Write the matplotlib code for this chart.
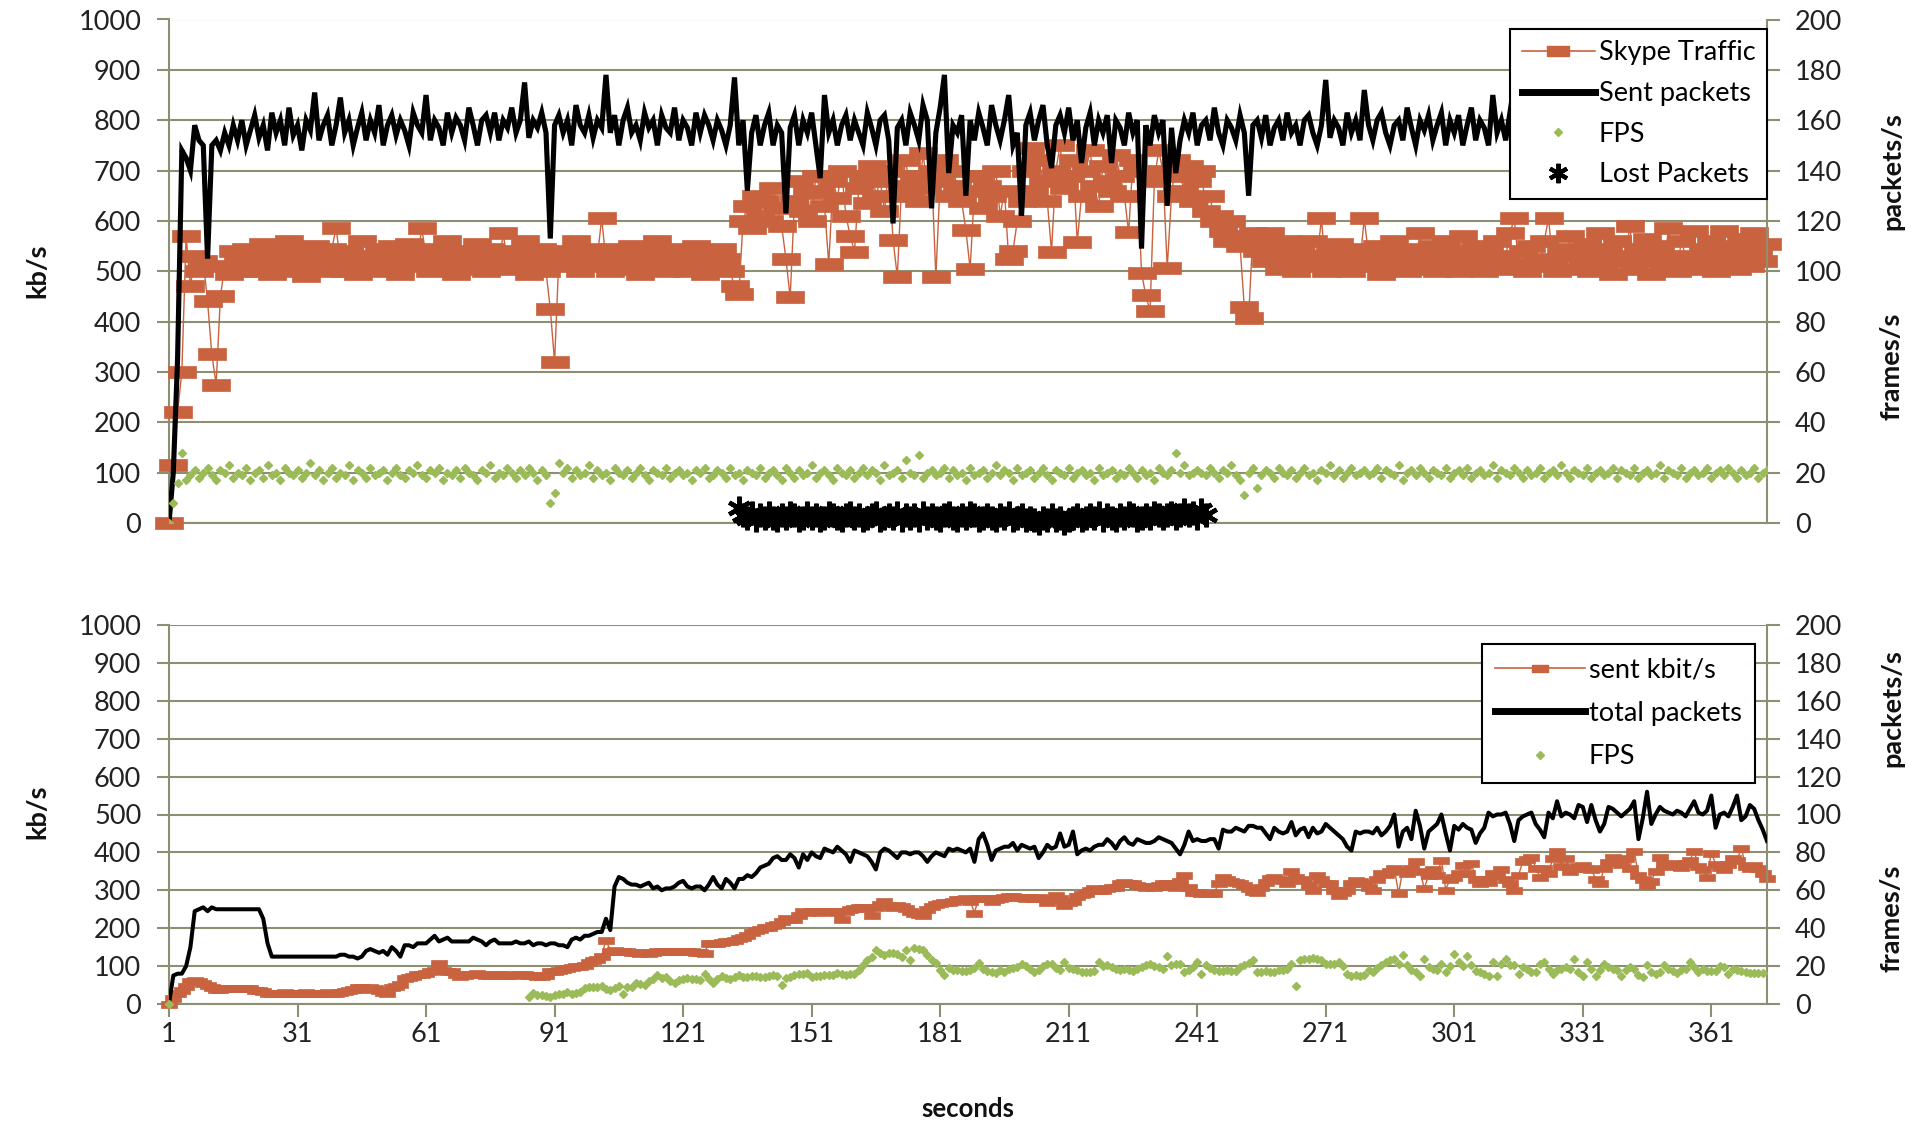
import numpy as np
import matplotlib
matplotlib.use('Agg')
import matplotlib.pyplot as plt
from matplotlib.lines import Line2D
from matplotlib.path import Path

# ---------------- data (one value per second) ----------------
x_ticks = [1, 31, 61, 91, 121, 151, 181, 211, 241, 271, 301, 331, 361]
n_seconds = 374

# top chart: Skype Traffic (kb/s, left axis)
top_skype_kbps = [
    0, 115, 220, 300, 570, 470, 530, 500, 520, 440, 335, 275, 450, 510, 495, 540, 520, 500, 545, 515,
    530, 500, 555, 520, 495, 540, 525, 510, 560, 500, 530, 545, 490, 525, 550, 510, 530, 500, 545, 585,
    520, 500, 540, 530, 495, 560, 515, 525, 500, 545, 530, 505, 550, 520, 495, 535, 555, 510, 525, 585,
    530, 500, 545, 520, 510, 560, 525, 495, 540, 515, 530, 505, 555, 520, 500, 545, 525, 510, 575, 520,
    505, 540, 525, 560, 495, 530, 515, 545, 500, 425, 320, 525, 540, 510, 530, 560, 500, 520, 545, 510,
    530, 605, 520, 500, 545, 515, 530, 505, 550, 520, 495, 540, 525, 510, 560, 530, 500, 545, 520, 510,
    535, 500, 525, 550, 515, 495, 540, 520, 505, 545, 525, 500, 470, 455, 600, 630, 585, 650, 610, 640,
    600, 665, 625, 590, 525, 448, 640, 680, 620, 655, 600, 690, 660, 630, 514, 680, 645, 700, 610, 571,
    539, 665, 690, 635, 710, 650, 680, 620, 700, 563, 489, 670, 720, 650, 690, 640, 735, 665, 700, 489,
    680, 720, 650, 700, 670, 640, 582, 505, 660, 690, 625, 670, 650, 700, 610, 660, 524, 540, 600, 640,
    700, 745, 660, 720, 680, 640, 539, 700, 750, 665, 690, 720, 558, 650, 700, 740, 670, 630, 710, 680,
    660, 730, 690, 650, 577, 720, 700, 497, 452, 421, 680, 740, 700, 507, 650, 720, 690, 660, 710, 640,
    680, 700, 620, 650, 600, 610, 580, 560, 600, 570, 550, 429, 408, 575, 540, 560, 520, 575, 530, 505,
    545, 560, 520, 500, 550, 530, 510, 560, 525, 605, 500, 540, 520, 555, 510, 530, 500, 545, 520, 605,
    530, 510, 550, 495, 540, 525, 560, 510, 530, 500, 545, 520, 575, 505, 535, 550, 500, 525, 560, 515,
    540, 500, 570, 525, 510, 550, 530, 500, 545, 520, 560, 505, 530, 575, 605, 515, 540, 500, 550, 525,
    510, 560, 605, 520, 500, 545, 530, 570, 505, 540, 520, 555, 500, 530, 575, 515, 545, 495, 560, 520,
    530, 590, 505, 545, 520, 565, 495, 535, 550, 510, 585, 525, 500, 560, 530, 515, 580, 505, 545, 525,
    560, 500, 540, 580, 520, 550, 505, 565, 530, 510, 575, 540, 520, 555,
]

# top chart: Sent packets (packets/s, right axis)
top_sent_packets = [
    0, 20, 65, 148, 145, 140, 158, 152, 150, 105, 150, 152, 148, 155, 150, 158, 152, 160, 150, 156,
    162, 153, 158, 148, 163, 155, 160, 150, 165, 154, 158, 148, 160, 156, 171, 152, 158, 162, 150, 158,
    169, 155, 160, 150, 157, 163, 152, 160, 155, 166, 150, 158, 162, 154, 160, 156, 150, 163, 158, 155,
    170, 152, 160, 157, 150, 163, 155, 161, 158, 152, 165, 158, 150, 160, 162, 155, 163, 152, 160, 157,
    165, 155, 160, 175, 153, 160, 157, 163, 155, 113, 158, 162, 155, 160, 150, 166, 158, 155, 162, 153,
    160, 157, 178, 155, 162, 150, 160, 165, 155, 158, 152, 163, 157, 160, 150, 162, 157, 155, 165, 152,
    160, 157, 150, 163, 155, 162, 158, 152, 160, 156, 150, 158, 177, 150, 160, 132, 155, 162, 150, 158,
    163, 150, 158, 155, 123, 157, 162, 150, 160, 155, 163, 150, 137, 170, 155, 160, 150, 158, 162, 152,
    160, 155, 150, 163, 157, 150, 160, 162, 152, 119, 157, 160, 150, 163, 158, 152, 166, 160, 125, 155,
    165, 178, 139, 158, 155, 162, 130, 160, 152, 163, 157, 150, 166, 158, 152, 160, 170, 150, 155, 122,
    158, 163, 152, 160, 166, 150, 141, 158, 162, 155, 165, 152, 160, 143, 157, 163, 150, 160, 155, 162,
    143, 160, 157, 150, 163, 155, 160, 109, 158, 150, 162, 155, 160, 126, 157, 139, 152, 160, 155, 163,
    150, 158, 160, 152, 165, 155, 150, 160, 157, 152, 162, 155, 130, 158, 160, 153, 162, 150, 157, 160,
    152, 163, 155, 158, 150, 160, 162, 155, 150, 158, 176, 153, 160, 157, 150, 163, 155, 160, 152, 172,
    158, 152, 160, 163, 155, 150, 158, 160, 152, 165, 157, 150, 160, 156, 162, 152, 158, 163, 150, 160,
    155, 162, 150, 158, 165, 152, 160, 157, 150, 170, 155, 160, 152, 163, 158, 150, 160, 155, 165, 152,
    160, 157, 150, 163, 155, 160, 168, 152, 158, 160, 150, 163, 155, 160, 152, 166, 158, 150, 160, 155,
    163, 152, 160, 157, 150, 165, 155, 160, 152, 158, 163, 150, 160, 157, 152, 165, 158, 150, 160, 155,
    162, 152, 160, 157, 150, 163, 155, 160, 152, 158, 163, 150, 160, 157,
]

# top chart: FPS (frames/s, right axis)
top_fps = [
    0, 8, 16, 28, 17, 19, 21, 18, 20, 22, 19, 17, 21, 20, 23, 18, 20, 19, 22, 17,
    20, 21, 18, 23, 19, 20, 17, 22, 20, 19, 21, 18, 20, 24, 19, 21, 17, 20, 22, 18,
    20, 19, 23, 17, 21, 20, 18, 22, 19, 20, 21, 17, 20, 22, 19, 18, 21, 20, 23, 19,
    18, 21, 20, 22, 17, 20, 19, 21, 18, 22, 20, 19, 17, 21, 20, 23, 18, 20, 19, 22,
    20, 18, 21, 19, 22, 20, 17, 21, 19, 8, 12, 24, 20, 22, 18, 21, 19, 20, 23, 18,
    21, 19, 20, 17, 22, 20, 19, 21, 18, 20, 22, 19, 17, 21, 20, 19, 22, 18, 20, 21,
    19, 20, 17, 21, 20, 22, 18, 19, 21, 20, 18, 22, 19, 20, 17, 21, 20, 19, 22, 18,
    20, 21, 19, 17, 22, 20, 18, 21, 19, 20, 23, 18, 20, 21, 19, 17, 22, 20, 19, 21,
    18, 20, 22, 19, 21, 20, 17, 23, 19, 20, 21, 18, 25, 20, 19, 27, 18, 20, 21, 19,
    20, 22, 18, 21, 19, 20, 17, 22, 19, 20, 21, 18, 20, 23, 19, 21, 20, 17, 22, 19,
    20, 21, 18, 20, 22, 19, 17, 21, 20, 19, 22, 18, 20, 21, 19, 20, 17, 22, 19, 20,
    21, 18, 20, 19, 22, 20, 18, 21, 19, 20, 17, 22, 20, 19, 21, 28, 20, 23, 19, 20,
    21, 20, 19, 22, 20, 18, 21, 20, 23, 19, 17, 11, 20, 22, 14, 19, 21, 20, 18, 22,
    20, 19, 21, 18, 20, 22, 19, 20, 17, 21, 20, 23, 19, 21, 18, 20, 22, 19, 20, 21,
    19, 20, 22, 18, 21, 20, 19, 23, 17, 20, 21, 19, 22, 20, 18, 21, 20, 19, 22, 18,
    20, 21, 19, 22, 18, 20, 21, 19, 20, 23, 18, 21, 20, 19, 22, 20, 18, 21, 19, 20,
    22, 18, 20, 21, 19, 23, 20, 18, 21, 20, 19, 22, 18, 20, 21, 19, 20, 22, 18, 21,
    20, 19, 22, 18, 20, 21, 19, 20, 23, 18, 21, 20, 19, 22, 18, 20, 21, 19, 20, 22,
    18, 20, 21, 19, 22, 20, 18, 21, 19, 20, 22, 18, 20, 21,
]

# top chart: Lost Packets (packets/s, right axis), seconds 134..243
lost_first_second = 134
lost_packets = [
    6, 3, 2, 4, 1, 3, 2, 4, 2, 1, 3, 2, 4, 3, 1, 2, 4, 2, 3, 1,
    2, 4, 3, 2, 1, 3, 4, 2, 3, 1, 2, 3, 4, 1, 2, 3, 2, 4, 1, 3,
    2, 3, 1, 4, 2, 3, 2, 1, 3, 4, 2, 1, 3, 2, 4, 3, 1, 2, 3, 2,
    1, 3, 2, 4, 1, 2, 3, 1, 2, 1, 0, 2, 1, 3, 1, 2, 0, 1, 2, 3,
    1, 2, 3, 2, 4, 1, 3, 2, 1, 3, 2, 4, 3, 1, 2, 3, 2, 4, 3, 2,
    3, 4, 2, 3, 5, 3, 4, 2, 5, 3,
]

# bottom chart: sent kbit/s (left axis)
bot_sent_kbps = [
    0, 15, 28, 37, 48, 62, 64, 60, 55, 50, 45, 40, 40, 42, 42, 42, 42, 42, 42, 42,
    38, 37, 33, 28, 28, 30, 30, 31, 30, 30, 30, 30, 31, 30, 30, 30, 30, 31, 30, 30,
    31, 33, 37, 40, 44, 44, 40, 44, 42, 38, 32, 30, 46, 48, 52, 68, 70, 73, 78, 80,
    83, 88, 90, 108, 90, 88, 86, 80, 74, 76, 78, 80, 82, 78, 77, 76, 78, 80, 76, 77,
    78, 76, 78, 79, 77, 76, 73, 75, 76, 86, 88, 90, 92, 95, 97, 99, 100, 104, 110, 117,
    120, 126, 170, 139, 143, 141, 140, 139, 138, 137, 135, 136, 135, 137, 139, 140, 139, 140, 139, 139,
    140, 139, 140, 138, 137, 135, 161, 160, 161, 163, 165, 166, 170, 174, 178, 183, 189, 196, 198, 202,
    204, 208, 212, 220, 227, 224, 223, 235, 245, 244, 246, 245, 244, 245, 246, 245, 244, 225, 245, 250,
    254, 256, 255, 252, 236, 255, 265, 272, 262, 255, 260, 258, 252, 245, 240, 238, 236, 250, 258, 264,
    267, 270, 270, 272, 276, 278, 279, 272, 241, 280, 280, 279, 272, 278, 280, 282, 285, 286, 283, 282,
    281, 283, 280, 283, 279, 270, 275, 288, 280, 261, 268, 272, 285, 290, 292, 300, 305, 302, 300, 305,
    308, 310, 318, 323, 320, 318, 315, 312, 310, 312, 310, 315, 318, 318, 312, 310, 325, 341, 310, 296,
    295, 293, 292, 294, 292, 320, 336, 330, 325, 323, 320, 315, 305, 298, 295, 310, 322, 332, 336, 330,
    327, 320, 350, 335, 327, 330, 315, 301, 340, 330, 320, 318, 300, 288, 295, 300, 320, 328, 325, 318,
    310, 302, 330, 345, 342, 350, 358, 292, 354, 345, 360, 376, 350, 305, 340, 355, 340, 380, 301, 330,
    335, 345, 367, 345, 372, 330, 319, 330, 322, 345, 340, 355, 330, 320, 301, 340, 376, 382, 389, 360,
    336, 360, 345, 385, 403, 365, 385, 350, 360, 365, 368, 360, 355, 330, 319, 360, 375, 389, 378, 370,
    385, 360, 403, 340, 330, 314, 325, 350, 389, 370, 365, 372, 368, 362, 372, 380, 403, 365, 355, 336,
    398, 370, 362, 355, 370, 385, 380, 411, 365, 360, 368, 358, 345, 332,
]

# bottom chart: total packets (packets/s, right axis)
bot_total_packets = [
    0, 15, 16, 16, 20, 30, 49, 50, 51, 49, 51, 50, 50, 50, 50, 50, 50, 50, 50, 50,
    50, 50, 45, 32, 25, 25, 25, 25, 25, 25, 25, 25, 25, 25, 25, 25, 25, 25, 25, 25,
    26, 26, 25, 25, 24, 25, 28, 29, 28, 27, 28, 26, 30, 28, 25, 31, 31, 30, 32, 32,
    32, 34, 36, 33, 34, 35, 33, 33, 33, 33, 33, 35, 34, 33, 31, 33, 34, 32, 32, 32,
    32, 33, 32, 32, 33, 31, 32, 32, 31, 32, 32, 31, 31, 30, 34, 35, 34, 36, 36, 37,
    38, 38, 45, 39, 62, 67, 66, 64, 63, 63, 62, 63, 64, 61, 62, 60, 61, 61, 62, 64,
    65, 62, 61, 62, 62, 60, 63, 67, 63, 61, 66, 64, 61, 66, 66, 68, 67, 69, 72, 73,
    74, 77, 78, 76, 76, 79, 77, 72, 79, 76, 80, 78, 77, 82, 81, 80, 83, 81, 79, 75,
    81, 80, 79, 78, 75, 71, 80, 82, 81, 79, 77, 80, 80, 79, 80, 80, 78, 75, 78, 80,
    79, 78, 82, 81, 82, 81, 80, 82, 75, 87, 90, 84, 76, 81, 82, 83, 83, 85, 81, 84,
    83, 82, 83, 77, 80, 84, 82, 83, 90, 83, 84, 91, 79, 81, 82, 81, 83, 84, 84, 87,
    85, 82, 86, 88, 85, 84, 87, 86, 85, 85, 86, 88, 87, 86, 85, 82, 79, 84, 91, 86,
    87, 86, 86, 87, 87, 82, 92, 91, 91, 93, 92, 91, 94, 94, 93, 93, 90, 87, 93, 91,
    90, 91, 96, 89, 92, 93, 88, 93, 90, 91, 95, 93, 91, 89, 87, 83, 81, 91, 90, 91,
    91, 90, 93, 89, 91, 94, 100, 83, 91, 93, 87, 102, 94, 82, 91, 93, 95, 100, 90, 81,
    94, 92, 95, 93, 92, 85, 90, 93, 101, 99, 100, 100, 101, 95, 86, 97, 99, 100, 101, 95,
    92, 88, 101, 98, 107, 99, 101, 100, 98, 105, 104, 96, 105, 97, 91, 95, 104, 103, 101, 99,
    101, 103, 107, 87, 98, 112, 95, 100, 104, 102, 101, 100, 102, 101, 99, 103, 107, 101, 100, 102,
    110, 93, 100, 101, 99, 104, 110, 97, 99, 105, 103, 97, 92, 86,
]

# bottom chart: FPS (frames/s, right axis); second 1, then seconds 85..373
bot_fps_first = [0.0]
bot_fps_start = 85
bot_fps = [
    3.9, 5.7, 4.8, 4.5, 4.2, 3.9, 4.5, 5.3, 5.3, 6.5, 5.5, 6.0, 6.5, 8.3, 8.8, 9.2, 8.8, 9.6, 7.8, 7.4,
    8.5, 9.6, 5.3, 9.0, 9.2, 11.0, 10.5, 10.0, 11.9, 13.0, 15.4, 13.6, 14.5, 12.0, 11.0, 12.7, 13.0, 13.6, 13.2, 13.0,
    12.5, 16.0, 13.0, 11.3, 13.0, 14.9, 13.6, 13.0, 14.0, 15.4, 14.5, 14.5, 15.0, 15.0, 14.5, 14.5, 15.0, 15.4, 15.0, 10.0,
    13.6, 14.5, 15.4, 16.0, 16.0, 16.3, 14.5, 15.0, 15.0, 15.4, 15.4, 15.4, 16.3, 16.0, 15.4, 16.0, 16.0, 18.0, 20.7, 23.0,
    25.0, 28.7, 27.0, 26.0, 27.0, 27.0, 26.5, 25.0, 28.7, 23.4, 29.6, 29.0, 28.7, 26.0, 23.0, 21.6, 18.0, 15.4, 19.0, 18.0,
    18.0, 17.2, 17.5, 18.0, 19.0, 21.6, 18.5, 17.2, 17.0, 16.5, 17.7, 16.8, 18.6, 19.0, 19.5, 21.2, 19.8, 18.5, 16.8, 18.0,
    20.0, 21.0, 21.0, 19.0, 17.7, 22.0, 19.0, 18.6, 17.7, 17.0, 16.8, 16.8, 17.5, 22.0, 20.0, 20.4, 19.5, 18.5, 17.7, 18.6,
    18.0, 17.2, 18.6, 19.5, 20.4, 21.2, 20.0, 19.5, 18.6, 25.3, 20.4, 21.0, 21.2, 16.8, 17.7, 19.5, 22.0, 15.9, 20.8, 19.0,
    17.7, 17.2, 17.2, 18.2, 17.2, 17.5, 19.5, 20.5, 21.5, 23.0, 16.8, 17.0, 17.2, 17.0, 16.8, 17.7, 18.0, 18.6, 21.0, 9.7,
    23.0, 23.5, 23.9, 24.2, 23.5, 23.0, 21.2, 21.2, 21.0, 22.0, 20.0, 15.9, 15.0, 15.2, 15.0, 15.5, 17.7, 16.8, 19.0, 20.4,
    22.0, 23.0, 23.9, 21.0, 26.0, 20.4, 17.7, 16.8, 15.0, 23.9, 19.5, 18.6, 17.7, 21.2, 16.8, 20.0, 26.5, 22.0, 20.0, 25.3,
    20.4, 17.5, 16.8, 15.9, 15.0, 22.0, 15.0, 21.2, 23.9, 20.8, 20.4, 16.0, 19.5, 18.5, 16.8, 16.8, 21.2, 22.0, 18.6, 16.0,
    17.7, 18.6, 19.5, 18.6, 23.9, 16.8, 15.0, 22.0, 18.6, 15.0, 17.7, 21.2, 19.5, 18.6, 17.7, 15.0, 17.7, 19.5, 18.5, 15.5,
    14.2, 20.4, 16.8, 16.0, 16.8, 20.4, 18.6, 17.5, 16.5, 17.7, 18.6, 22.0, 19.5, 16.8, 18.6, 17.2, 17.2, 17.2, 20.0, 19.5,
    16.0, 18.6, 17.7, 17.2, 16.8, 16.5, 16.5, 16.5, 16.5,
]

top_labels = ['Skype Traffic', 'Sent packets', 'FPS', 'Lost Packets']
bot_labels = ['sent kbit/s', 'total packets', 'FPS']

# ---------------- styling ----------------
plt.rcParams['font.family'] = ['Lato', 'DejaVu Sans']
RED = '#C9623F'
GREEN = '#9BBB59'
GRID = '#8E8E72'
FS = 19.5
W, H = 1915, 1124

fig = plt.figure(figsize=(W / 100, H / 100), dpi=100)


def box(x0, y0, x1, y1):
    return [x0 / W, 1 - y1 / H, (x1 - x0) / W, (y1 - y0) / H]


dash = Path([(-1, -0.42), (1, -0.42), (1, 0.42), (-1, 0.42), (-1, -0.42)],
            [Path.MOVETO, Path.LINETO, Path.LINETO, Path.LINETO, Path.CLOSEPOLY])
star = (6, 2, 0)


def style(ax, axr, show_x):
    ax.set_xlim(1, n_seconds)
    ax.set_ylim(0, 1000)
    axr.set_ylim(0, 200)
    ax.set_yticks(np.arange(0, 1001, 100))
    axr.set_yticks(np.arange(0, 201, 20))
    ax.yaxis.grid(True, color=GRID, lw=1.5)
    ax.set_axisbelow(True)
    for a in (ax, axr):
        for sp in a.spines.values():
            sp.set_color(GRID)
            sp.set_linewidth(1.5)
        a.spines['top'].set_visible(False)
    axr.spines['left'].set_visible(False)
    axr.spines['bottom'].set_visible(False)
    ax.spines['right'].set_visible(False)
    ax.tick_params(axis='y', direction='out', length=9, width=1.5, color=GRID,
                   labelsize=FS, pad=11, labelcolor='#222222')
    axr.tick_params(axis='y', direction='out', length=9, width=1.5, color=GRID,
                    labelsize=FS, pad=11, labelcolor='#222222')
    if show_x:
        ax.set_xticks(x_ticks)
        ax.tick_params(axis='x', direction='out', length=9, width=1.5, color=GRID,
                       labelsize=FS, pad=4, labelcolor='#222222')
    else:
        ax.set_xticks([])


# ---------------- top chart ----------------
ax1 = fig.add_axes(box(169, 19.5, 1767, 523))
ax1r = ax1.twinx()
style(ax1, ax1r, False)

ax1.plot(np.arange(1, len(top_skype_kbps) + 1), top_skype_kbps, color=RED, lw=1.0,
         marker=dash, ms=20, mfc=RED, mec=RED, mew=0.5, clip_on=False, zorder=3)
ax1r.plot(np.arange(1, len(top_sent_packets) + 1), top_sent_packets, color='k', lw=3.7,
          zorder=3, solid_joinstyle='miter')
ax1r.plot(np.arange(1, len(top_fps) + 1), top_fps, ls='none', marker='D', ms=4.3,
          color=GREEN, mec=GREEN, zorder=4)
x_lost = np.arange(lost_first_second, lost_first_second + len(lost_packets))
ax1r.plot(x_lost, lost_packets, ls='none', marker=star, ms=17, mew=3.2, color='k',
          clip_on=False, zorder=5)

# ---------------- bottom chart ----------------
ax2 = fig.add_axes(box(169, 625, 1767, 1004))
ax2r = ax2.twinx()
style(ax2, ax2r, True)

ax2.plot(np.arange(1, len(bot_sent_kbps) + 1), bot_sent_kbps, color=RED, lw=1.0,
         marker=dash, ms=12, mfc=RED, mec=RED, mew=0.5, clip_on=False, zorder=3)
ax2r.plot(np.arange(1, len(bot_total_packets) + 1), bot_total_packets, color='k', lw=2.9, zorder=3)
fps_x = np.concatenate([[1], np.arange(bot_fps_start, bot_fps_start + len(bot_fps))])
fps_y = np.concatenate([bot_fps_first, bot_fps])
ax2r.plot(fps_x, fps_y, ls='none', marker='D', ms=4.0, color=GREEN, mec=GREEN,
          clip_on=False, zorder=4)

# ---------------- legends ----------------
h_top = [
    Line2D([], [], color=RED, lw=1.2, marker=dash, ms=16, mfc=RED, mec=RED),
    Line2D([], [], color='k', lw=5),
    Line2D([], [], ls='none', marker='D', ms=3.8, color=GREEN),
    Line2D([], [], ls='none', marker=star, ms=14, mew=3, color='k'),
]
leg1 = fig.legend(h_top, top_labels, loc='upper right', bbox_to_anchor=(1767 / W, 1 - 29 / H),
                  frameon=True, fancybox=False, edgecolor='k', framealpha=1, fontsize=FS,
                  handlelength=2.7, handletextpad=0.15, labelspacing=0.58, borderpad=0.42,
                  borderaxespad=0, numpoints=1)
leg1.get_frame().set_linewidth(1.5)

h_bot = [
    Line2D([], [], color=RED, lw=1.2, marker=dash, ms=12, mfc=RED, mec=RED),
    Line2D([], [], color='k', lw=5),
    Line2D([], [], ls='none', marker='D', ms=3.8, color=GREEN),
]
leg2 = fig.legend(h_bot, bot_labels, loc='upper right', bbox_to_anchor=(1755 / W, 1 - 644 / H),
                  frameon=True, fancybox=False, edgecolor='k', framealpha=1, fontsize=FS,
                  handlelength=3.3, handletextpad=0.15, labelspacing=0.68, borderpad=0.5,
                  borderaxespad=0, numpoints=1)
leg2.get_frame().set_linewidth(1.5)

# ---------------- axis titles ----------------
tkw = dict(rotation=90, ha='center', va='center', fontweight='bold', fontsize=FS, color='#111111')
fig.text(37 / W, 1 - 271 / H, 'kb/s', **tkw)
fig.text(37 / W, 1 - 812 / H, 'kb/s', **tkw)
fig.text(1892 / W, 1 - 171 / H, 'packets/s', **tkw)
fig.text(1892 / W, 1 - 366 / H, 'frames/s', **tkw)
fig.text(1892 / W, 1 - 708 / H, 'packets/s', **tkw)
fig.text(1892 / W, 1 - 918 / H, 'frames/s', **tkw)
fig.text(968 / W, 1 - 1109 / H, 'seconds', ha='center', va='center', fontweight='bold',
         fontsize=FS - 1, color='#111111')

fig.savefig('out.png', dpi=100)
